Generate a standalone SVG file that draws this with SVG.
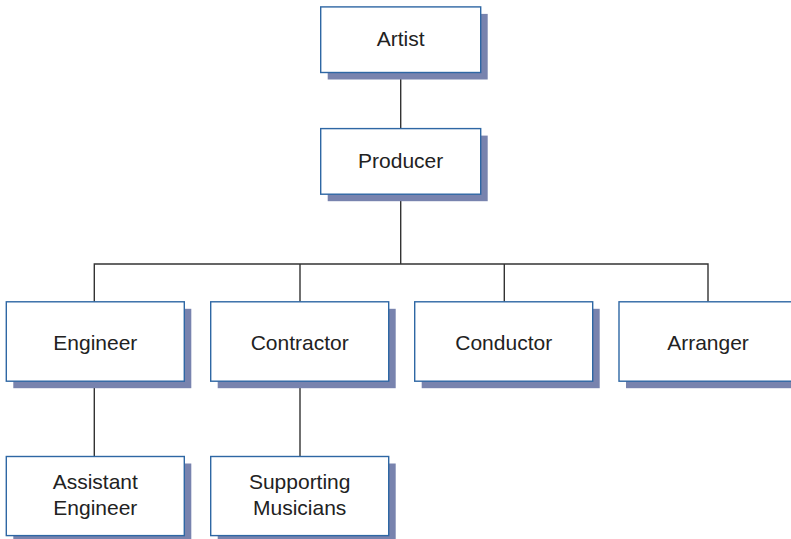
<svg xmlns="http://www.w3.org/2000/svg" width="791" height="539" viewBox="0 0 791 539">
<style>
.shadow{fill:#7883ae;stroke:none}
.box{fill:#ffffff;stroke:#2e67a4;stroke-width:1.4}
.lbl{font-family:"Liberation Sans",Arial,sans-serif;font-size:21px;fill:#222222;text-anchor:middle}
.conn{stroke:#333333;stroke-width:1.4;fill:none}
</style>
<rect width="791" height="539" fill="#ffffff"/>
<g id="connectors">
<line class="conn" x1="400.7" y1="72.5" x2="400.7" y2="128.6"/>
<line class="conn" x1="400.7" y1="194.2" x2="400.7" y2="264"/>
<polyline class="conn" points="94.3,301.8 94.3,264 708,264 708,301.8"/>
<line class="conn" x1="300" y1="264" x2="300" y2="301.8"/>
<line class="conn" x1="504.3" y1="264" x2="504.3" y2="301.8"/>
<line class="conn" x1="94.3" y1="381.2" x2="94.3" y2="456.5"/>
<line class="conn" x1="300" y1="381.2" x2="300" y2="456.5"/>
</g>
<g id="artist">
<rect class="shadow" x="327.7" y="13.9" width="160" height="65.6"/>
<rect class="box" x="320.7" y="6.9" width="160" height="65.6"/>
<text class="lbl" x="400.7" y="45.7">Artist</text>
</g>
<g id="producer">
<rect class="shadow" x="327.7" y="135.6" width="160" height="65.6"/>
<rect class="box" x="320.7" y="128.6" width="160" height="65.6"/>
<text class="lbl" x="400.7" y="168.4">Producer</text>
</g>
<g id="engineer">
<rect class="shadow" x="13.3" y="308.8" width="178" height="79.4"/>
<rect class="box" x="6.3" y="301.8" width="178" height="79.4"/>
<text class="lbl" x="95.3" y="349.6">Engineer</text>
</g>
<g id="contractor">
<rect class="shadow" x="217.7" y="308.8" width="178" height="79.4"/>
<rect class="box" x="210.7" y="301.8" width="178" height="79.4"/>
<text class="lbl" x="299.7" y="349.6">Contractor</text>
</g>
<g id="conductor">
<rect class="shadow" x="421.7" y="308.8" width="178" height="79.4"/>
<rect class="box" x="414.7" y="301.8" width="178" height="79.4"/>
<text class="lbl" x="503.7" y="349.6">Conductor</text>
</g>
<g id="arranger">
<rect class="shadow" x="626" y="308.8" width="178" height="79.4"/>
<rect class="box" x="619" y="301.8" width="178" height="79.4"/>
<text class="lbl" x="708" y="349.6">Arranger</text>
</g>
<g id="assistant-engineer">
<rect class="shadow" x="13.3" y="463.5" width="178" height="79.1"/>
<rect class="box" x="6.3" y="456.5" width="178" height="79.1"/>
<text class="lbl" x="95.3" y="489.2">Assistant</text>
<text class="lbl" x="95.3" y="514.6">Engineer</text>
</g>
<g id="supporting-musicians">
<rect class="shadow" x="217.7" y="463.5" width="178" height="79.1"/>
<rect class="box" x="210.7" y="456.5" width="178" height="79.1"/>
<text class="lbl" x="299.7" y="489.2">Supporting</text>
<text class="lbl" x="299.7" y="514.6">Musicians</text>
</g>
</svg>
